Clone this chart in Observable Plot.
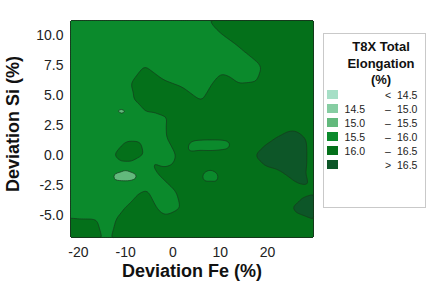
<!DOCTYPE html>
<html><head><meta charset="utf-8">
<script src="https://cdn.jsdelivr.net/npm/d3@7"></script>
<script src="https://cdn.jsdelivr.net/npm/@observablehq/plot@0.6"></script>
<style>
body{margin:0;background:#fff;font-family:"Liberation Sans",Arial,sans-serif;}
#wrap{position:relative;width:428px;height:284px;overflow:hidden;}
#wrap svg{position:absolute;left:0;top:0;}
.lg{position:absolute;color:#222;white-space:nowrap;}
</style></head><body><div id="wrap"></div>
<script>
// Sample grid (Fe deviation columns, Si deviation rows) of T8X total elongation (%)
const feNodes = [-22,-18,-14,-10,-6,-2,2,6,10,14,18,22,26,30];
const siNodes = [12,10.5,9,7.5,6,4.5,3,1.5,0,-1.5,-3,-4.5,-6,-7.5];
const elongation = [
 [15.75,15.75,15.75,15.75,15.75,15.75,15.8,16.02,16.25,16.25,16.25,16.25,16.25,16.25],
 [15.75,15.75,15.75,15.75,15.75,15.75,15.75,15.8,16.05,16.25,16.25,16.25,16.25,16.25],
 [15.75,15.75,15.75,15.75,15.75,15.75,15.75,15.75,15.8,15.99,16.25,16.25,16.25,16.25],
 [15.75,15.75,15.75,15.8,16.0,15.8,15.8,15.78,15.88,15.8,15.95,16.25,16.25,16.25],
 [15.75,15.75,15.75,15.93,16.2,16.05,15.95,15.8,16.15,16.0,16.02,16.25,16.25,16.25],
 [15.75,15.75,15.75,15.85,16.2,16.2,16.2,16.0,16.2,16.2,16.25,16.25,16.25,16.25],
 [15.75,15.75,15.75,15.75,15.85,15.95,16.2,16.25,16.25,16.25,16.25,16.25,16.25,16.25],
 [15.75,15.75,15.8,15.92,15.92,15.94,16.3,16.25,16.25,16.25,16.3,16.5,16.65,16.35],
 [15.75,15.75,15.85,16.3,15.98,15.8,16.1,16.25,16.25,16.3,16.55,16.8,16.7,16.35],
 [15.75,15.75,15.75,15.25,15.8,16.1,16.2,16.25,16.25,16.25,16.3,16.4,16.65,16.35],
 [15.78,15.78,15.78,15.85,16.05,15.8,16.1,16.25,16.25,16.25,16.25,16.3,16.35,16.45],
 [15.85,15.8,15.8,16.02,16.2,15.91,16.02,16.25,16.25,16.25,16.25,16.3,16.55,16.8],
 [16.18,16.18,15.88,16.2,16.25,16.2,16.25,16.25,16.25,16.25,16.25,16.25,16.3,16.3],
 [16.2,16.15,15.96,16.25,16.25,16.25,16.25,16.25,16.25,16.25,16.25,16.25,16.3,16.3]
];
// Extra local samples (small islands)
const extraFe    = [-12.2, -7.9,  -10.7, 5.2,  7.5,   9.9,  6.4,  7.8,  9.2,  7.8,  7.8];
const extraSi    = [-1.75, -1.75, 3.7,   1.0,  1.0,   1.05, -1.6, -1.65, -1.6, -0.9, -2.45];
const extraElong = [15.38, 15.38, 15.35, 15.7, 15.65, 15.7, 15.7, 15.6, 15.7, 16.25, 16.25];

const thresholds = [14.5, 15.0, 15.5, 16.0, 16.5];
const bandColors = ["#a6dfc6", "#86cda2", "#62b97c", "#0b8a2c", "#04701a", "#0d5628"];
const legendLow  = ["", "14.5", "15.0", "15.5", "16.0", ""];
const legendSep  = ["<", "\u2013", "\u2013", "\u2013", "\u2013", ">"];
const legendHigh = ["14.5", "15.0", "15.5", "16.0", "16.5", "16.5"];
const feTicks = [-20, -10, 0, 10, 20];
const siTicks = [-5, -2.5, 0, 2.5, 5, 7.5, 10];

const points = [];
siNodes.forEach((si, r) => feNodes.forEach((fe, c) => points.push({fe, si, v: elongation[r][c]})));
extraFe.forEach((fe, i) => points.push({fe, si: extraSi[i], v: extraElong[i]}));

const fmtX = d => d < 0 ? "-" + Math.abs(d) : String(d);
const fmtY = d => d < 0 ? "-" + Math.abs(d).toFixed(1) : d.toFixed(1);

const plot = Plot.plot({
  width: 428, height: 284,
  marginLeft: 70, marginRight: 115, marginTop: 20, marginBottom: 47,
  x: {domain: [-21.67, 29.7]},
  y: {domain: [-6.83, 11.25]},
  color: {type: "threshold", domain: thresholds, range: bandColors},
  style: {fontFamily: "Liberation Sans, Arial, sans-serif", fontSize: "14px", color: "#222", background: "transparent"},
  marks: [
    Plot.contour(points, {x: "fe", y: "si", fill: "v", thresholds: [0, ...thresholds], interpolate: "barycentric", blur: 1, stroke: "none"}),
    Plot.contour(points, {x: "fe", y: "si", value: "v", thresholds, interpolate: "barycentric", blur: 1, fill: "none", stroke: "#163a1c", strokeWidth: 0.7}),
    Plot.axisX({ticks: feTicks, tickSize: 0, tickPadding: 10, label: null, tickFormat: fmtX, fontSize: 14}),
    Plot.axisY({ticks: siTicks, tickSize: 0, tickPadding: 7, label: null, tickFormat: fmtY, fontSize: 14}),
    Plot.text(["Deviation Fe (%)"], {text: d => d, frameAnchor: "bottom", textAnchor: "middle", lineAnchor: "middle", dy: 34, fontSize: 18, fontWeight: "bold", fill: "#111"}),
    Plot.text(["Deviation Si (%)"], {text: d => d, frameAnchor: "left", textAnchor: "middle", lineAnchor: "middle", dx: -57, dy: -5, rotate: -90, fontSize: 18, fontWeight: "bold", fill: "#111"})
  ]
});
const wrap = document.getElementById("wrap");
wrap.appendChild(plot);

// Legend (HTML, beside the plot)
function add(html, css) {
  const d = document.createElement("div");
  d.className = "lg";
  d.innerHTML = html;
  Object.assign(d.style, css);
  wrap.appendChild(d);
  return d;
}
add("", {left: "323px", top: "33px", width: "103px", height: "175px", border: "1px solid #c9c9c9", boxSizing: "border-box"});
add("T8X Total<br>Elongation<br>(%)", {left: "340px", top: "39px", width: "82px", textAlign: "center", fontWeight: "bold", fontSize: "13px", lineHeight: "16.5px", color: "#111"});
bandColors.forEach((c, i) => {
  const cy = 94.5 + 14 * i;
  add("", {left: "327px", top: (cy - 4.5) + "px", width: "11px", height: "9px", background: c});
  const t = {fontSize: "10.5px", lineHeight: "12px", top: (cy - 6) + "px"};
  add(legendLow[i], {...t, left: "338px", width: "27px", textAlign: "right"});
  add(legendSep[i], {...t, left: "381px", width: "14px", textAlign: "center"});
  add(legendHigh[i], {...t, left: "397px", width: "22px", textAlign: "left"});
});
</script>
</body></html>
